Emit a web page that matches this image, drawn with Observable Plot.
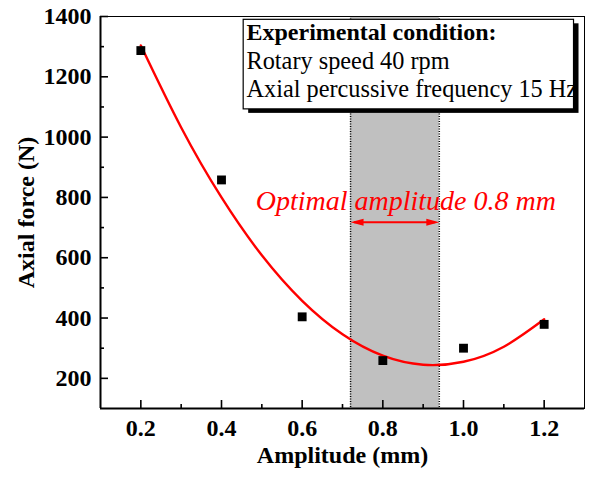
<!DOCTYPE html>
<html><head><meta charset="utf-8">
<script src="https://cdn.jsdelivr.net/npm/d3@7"></script>
<script src="https://cdn.jsdelivr.net/npm/@observablehq/plot@0.6"></script>
<style>body{margin:0;background:#fff}</style>
</head><body><div id="chart"></div>
<script>
// measured points
const amplitude = [0.2, 0.4, 0.6, 0.8, 1.0, 1.2];
const axialForce = [1287, 858, 404, 259, 300, 379];
// fitted curve
const fitAmplitude = [0.2, 0.3, 0.4, 0.5, 0.6, 0.7, 0.8, 0.9, 1.0, 1.1, 1.2];
const fitForce = [1304, 1032, 800, 608, 457, 346, 275, 245, 255, 305, 396];
// ticks
const xTicks = [0.2, 0.4, 0.6, 0.8, 1.0, 1.2];
const xMinor = [0.3, 0.5, 0.7, 0.9, 1.1];
const yTicks = [200, 400, 600, 800, 1000, 1200, 1400];
const yMinor = [300, 500, 700, 900, 1100, 1300];
// optimal band
const bandStart = 0.72;
const bandEnd = 0.94;
const annotationText = "Optimal amplitude 0.8 mm";
const boxTitle = "Experimental condition:";
const boxLines = ["Rotary speed 40 rpm", "Axial percussive frequency 15 Hz"];
const boxLineForce = [1226, 1133];

const points = amplitude.map((a, i) => ({a, f: axialForce[i]}));
const fit = fitAmplitude.map((a, i) => ({a, f: fitForce[i]}));
const box = boxLines.map((t, i) => ({t, f: boxLineForce[i]}));

const W = 589, H = 483, mL = 100, mR = 5, mT = 16, mB = 75;
const innerW = W - mL - mR, innerH = H - mT - mB;
const font = "Liberation Serif, Times New Roman, serif";
const head = {draw(ctx) { ctx.moveTo(0, 0); ctx.lineTo(-3.5, 13); ctx.lineTo(3.5, 13); ctx.closePath(); }};

const chart = Plot.plot({
  width: W, height: H,
  marginLeft: mL, marginRight: mR, marginTop: mT, marginBottom: mB,
  style: {fontFamily: font, background: "#fff", color: "#000"},
  x: {domain: [0.1, 1.3], axis: null},
  y: {domain: [100, 1400], axis: null},
  marks: [
    Plot.rect([{x1: bandStart, x2: bandEnd}], {x1: "x1", x2: "x2", y1: 100, y2: 1400, fill: "#c0c0c0"}),
    Plot.ruleX([bandStart, bandEnd], {stroke: "#000", strokeWidth: 1.5, strokeDasharray: "1,1.5"}),
    Plot.line(fit, {x: "a", y: "f", stroke: "#ff0000", strokeWidth: 2.4, curve: "natural"}),
    Plot.dot(points, {x: "a", y: "f", symbol: "square", r: 5, fill: "#000", stroke: "none"}),
    Plot.ruleY([718], {x1: bandStart + 0.01, x2: bandEnd - 0.01, stroke: "#ff0000", strokeWidth: 2}),
    Plot.dot([bandStart], {x: d => d, y: 718, symbol: head, rotate: -90, fill: "#ff0000", stroke: "none", r: 5}),
    Plot.dot([bandEnd], {x: d => d, y: 718, symbol: head, rotate: 90, fill: "#ff0000", stroke: "none", r: 5}),
    Plot.text([annotationText], {x: 0.857, y: 759, text: d => d, lineAnchor: "bottom", textAnchor: "middle",
      fontSize: 28, fontStyle: "italic", fill: "#ff0000", fontFamily: font}),
    // text box with shadow
    Plot.rect([0], {x1: 0.455, x2: 1.274, y1: 1092, y2: 1389, fill: "#000", dx: 5, dy: 4}),
    Plot.rect([0], {x1: 0.455, x2: 1.274, y1: 1092, y2: 1389, fill: "#fff", stroke: "#000", strokeWidth: 1.2}),
    Plot.text([boxTitle], {x: 0.462, y: 1322, text: d => d, textAnchor: "start", lineAnchor: "bottom", fontSize: 24,
      fontWeight: "bold", fill: "#000", fontFamily: font}),
    Plot.text(box, {x: 0.462, y: "f", text: "t", textAnchor: "start", lineAnchor: "bottom", fontSize: 24.3,
      fill: "#000", fontFamily: font}),
    // frame & axes
    Plot.frame({stroke: "#000", strokeWidth: 1}),
    Plot.ruleX([0.1], {stroke: "#000", strokeWidth: 2}),
    Plot.ruleY([100], {stroke: "#000", strokeWidth: 2}),
    Plot.tickX(xTicks, {x: d => d, insetTop: innerH - 8, stroke: "#000", strokeWidth: 1.6}),
    Plot.tickX(xMinor, {x: d => d, insetTop: innerH - 4, stroke: "#000", strokeWidth: 1.6}),
    Plot.tickY(yTicks, {y: d => d, insetRight: innerW - 8, stroke: "#000", strokeWidth: 1.6}),
    Plot.tickY(yMinor, {y: d => d, insetRight: innerW - 4, stroke: "#000", strokeWidth: 1.6}),
    Plot.axisX(xTicks, {tickSize: 0, tickPadding: 10, tickFormat: d => d.toFixed(1), fontSize: 24, fontWeight: "bold", label: null, fontFamily: font}),
    Plot.axisY(yTicks, {tickSize: 0, tickPadding: 9, tickFormat: d => String(d), fontSize: 24, fontWeight: "bold", label: null, fontFamily: font}),
    Plot.text(["Amplitude (mm)"], {frameAnchor: "bottom", dy: 54, text: d => d, lineAnchor: "bottom", textAnchor: "middle", fontSize: 24, fontWeight: "bold", fontFamily: font}),
    Plot.text(["Axial force (N)"], {frameAnchor: "left", dx: -67, text: d => d, rotate: -90, lineAnchor: "bottom", textAnchor: "middle", fontSize: 24, fontWeight: "bold", fontFamily: font})
  ]
});
document.getElementById("chart").appendChild(chart);
</script>
</body></html>
